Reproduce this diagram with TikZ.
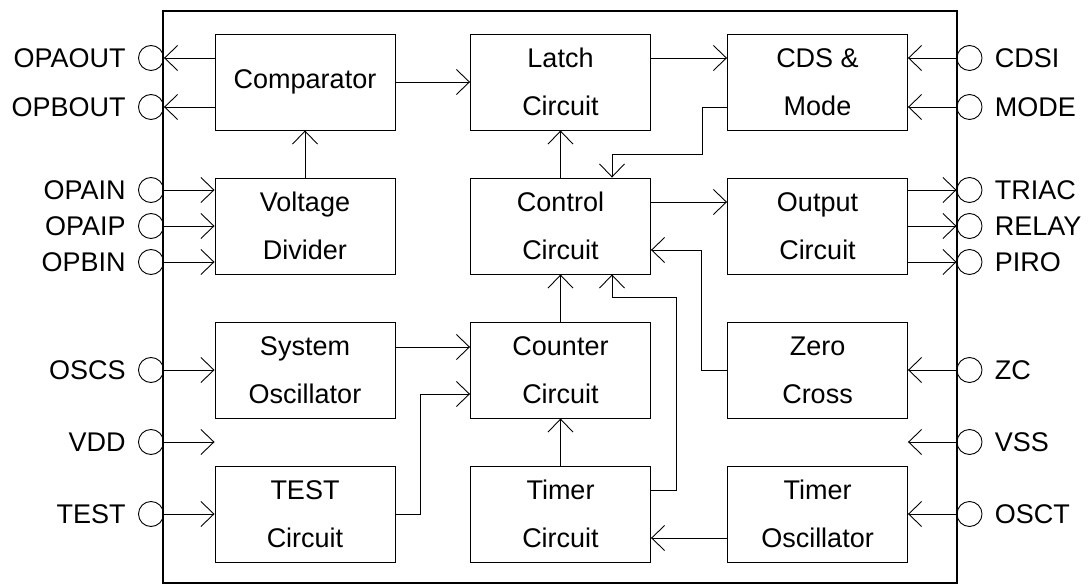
\documentclass[tikz,border=0pt]{standalone}
\usepackage{fontspec}
\setmainfont{Liberation Sans}
\usetikzlibrary{arrows.meta,positioning}
\begin{document}
\begin{tikzpicture}[x=1pt,y=-1pt,line width=.9pt,
    >={Straight Barb[length=13pt,width=25pt]},
    font=\fontsize{27}{48}\selectfont,
    blk/.style={draw,minimum width=180pt,minimum height=96pt,inner sep=0,align=center},
    pad/.style={draw,circle,minimum size=25pt,inner sep=0}]
\useasboundingbox (0,0) rectangle (1089,585);
% chip outline
\draw[line width=2.7pt] (163,11) rectangle (957,583);
% blocks
\node[blk] (comp) at (305,82) {Comparator};
\node[blk] (vd) at (305,226) {Voltage\\Divider};
\node[blk] (sosc) at (305,370) {System\\Oscillator};
\node[blk] (tst) at (305,514) {TEST\\Circuit};
\node[blk] (latch) at (560.5,82) {Latch\\Circuit};
\node[blk] (ctrl) at (560.5,226) {Control\\Circuit};
\node[blk] (cnt) at (560.5,370) {Counter\\Circuit};
\node[blk] (tmr) at (560.5,514) {Timer\\Circuit};
\node[blk] (cds) at (817.5,82) {CDS \&\\Mode};
\node[blk] (outc) at (817.5,226) {Output\\Circuit};
\node[blk] (zc) at (817.5,370) {Zero\\Cross};
\node[blk] (tosc) at (817.5,514) {Timer\\Oscillator};
% pads
\foreach \y/\t/\n in {58/OPAOUT/pao,107/OPBOUT/pbo,190/OPAIN/pain,226/OPAIP/paip,
    262/OPBIN/pbin,370/OSCS/oscs,442/VDD/vdd,514/TEST/test}
{
    \node[pad] (\n) at (151,\y) {};
    \node[left=12pt of \n,inner sep=0] (\n t) {\t};
}
\foreach \y/\t/\n in {58/CDSI/cdsi,107/MODE/mode,190/TRIAC/triac,226/RELAY/relay,
    262/PIRO/piro,370/ZC/zcp,442/VSS/vss,514/OSCT/osct}
{
    \node[pad] (\n) at (969.5,\y) {};
    \node[right=12pt of \n,inner sep=0] (\n t) {\t};
}
% left side
\draw[->] (comp.west |- pao) -- (pao.east);
\draw[->] (comp.west |- pbo) -- (pbo.east);
\foreach \n in {pain,paip,pbin}
    \draw[->] (\n.east) -- (vd.west |- \n);
\draw[->] (oscs.east) -- (sosc.west |- oscs);
\draw[->] (vdd.east) -- (sosc.west |- vdd);
\draw[->] (test.east) -- (tst.west |- test);
% right side
\draw[->] (cdsi.west) -- (cds.east |- cdsi);
\draw[->] (mode.west) -- (cds.east |- mode);
\foreach \n in {triac,relay,piro}
    \draw[->] (outc.east |- \n) -- (\n.west);
\draw[->] (zcp.west) -- (zc.east |- zcp);
\draw[->] (vss.west) -- (zc.east |- vss);
\draw[->] (osct.west) -- (tosc.east |- osct);
% inside
\draw[->] (vd.north) -- (comp.south);
\draw[->] (comp.east) -- (latch.west);
\draw[->] (latch.east |- cdsi) -- (cds.west |- cdsi);
\draw[->] (cds.west |- mode) -| (702,154) -| ([xshift=51.5pt]ctrl.north);
\draw[->] (ctrl.north) -- (latch.south);
\draw[->] ([yshift=24pt]ctrl.east) -- ([yshift=24pt]outc.west);
\draw[->] (zc.west) -- ++(-26,0) |- ([yshift=-24pt]ctrl.east);
\draw[->] (cnt.north) -- (ctrl.south);
\draw[->] ([yshift=24pt]tmr.east) -| (676,297) -| ([xshift=51.5pt]ctrl.south);
\draw[->] ([yshift=23pt]sosc.east) -- ([yshift=23pt]cnt.west);
\draw[->] (tst.east) -- ++(25,0) |- ([yshift=-24pt]cnt.west);
\draw[->] (tmr.north) -- (cnt.south);
\draw[->] ([yshift=-24pt]tosc.west) -- ([yshift=-24pt]tmr.east);
\end{tikzpicture}
\end{document}
